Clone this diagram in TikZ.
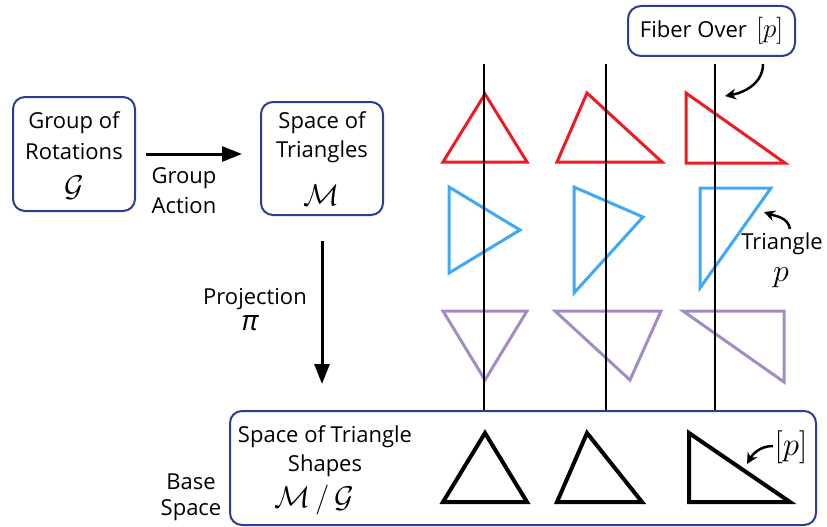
\RequirePackage{fix-cm}
\documentclass[tikz,border=0pt]{standalone}
\usepackage{fontspec}
\setmainfont{Open Sans}
\usetikzlibrary{arrows.meta}
\definecolor{boxblue}{RGB}{44,62,148}
\definecolor{tred}{RGB}{237,28,36}
\definecolor{tblue}{RGB}{63,169,245}
\definecolor{tpurple}{RGB}{165,139,196}
\begin{document}
\begin{tikzpicture}[x=1pt,y=-1pt]
\tikzset{
 panel/.style={draw=boxblue, line width=2pt, rounded corners=12pt, inner sep=0pt},
 txt/.style={font=\fontsize{22}{26}\selectfont, inner sep=0pt},
 cal/.style={font=\fontsize{30}{36}\selectfont, inner sep=0pt},
 fiberline/.style={line width=2pt},
 tri/.style={line width=3pt, line join=miter},
 btri/.style={line width=4pt, line join=miter},
 bigarrow/.style={line width=3pt, -{Triangle[length=20pt,width=15pt]}},
 curvearrow/.style={line width=2.5pt, -{Stealth[length=11pt,width=11pt]}},
}
\useasboundingbox (0,0) rectangle (827,527);

% boxes
\node[panel, minimum width=122pt, minimum height=114pt] (grp) at (74,154) {};
\node[txt] (grpa) at (74,123) {Group of};
\node[txt] (grpb) at (74,152) {Rotations};
\node[cal] (grpc) at (74,188) {$\mathcal{G}$};

\node[panel, minimum width=122pt, minimum height=113pt] (sp) at (322,158.5) {};
\node[txt] (spa) at (322,123) {Space of};
\node[txt] (spb) at (322,152) {Triangles};
\node[cal] (spc) at (322,195) {$\mathcal{M}$};

\node[panel, minimum width=586pt, minimum height=114pt] (base) at (523,468) {};
\node[txt] (basea) at (325,437) {Space of Triangle};
\node[txt] (baseb) at (325,466) {Shapes};
\node[cal] (basec) at (314,500) {$\mathcal{M}\,/\,\mathcal{G}$};

\node[txt] (bsa) at (191,482) {Base};
\node[txt] (bsb) at (191,510) {Space};

\node[panel, rounded corners=13pt, minimum width=167pt, minimum height=50pt, font=\fontsize{22}{26}\selectfont] (fib) at (711.5,31) {Fiber Over\, {\fontsize{27}{30}\selectfont$[p]$}};

% labels
\node[txt] (gact1) at (184,178) {Group};
\node[txt] (gact2) at (184,206) {Action};
\node[txt] (proj) at (255,299) {Projection};
\node[txt, font=\fontsize{28}{30}\selectfont\itshape] (pi) at (250,323) {π};

% arrows between boxes
\draw[bigarrow, shorten <=10pt, shorten >=18pt] (grp.east) -- (grp.east -| sp.west);
\draw[bigarrow, shorten <=25pt, shorten >=26pt] (sp.south) -- (sp.south |- base.north);

% red triangles
\draw[tri, tred] (485,94) -- (443,162) -- (527,162) -- cycle;
\draw[tri, tred] (587,93) -- (557,162) -- (662,162) -- cycle;
\draw[tri, tred] (686,93) -- (686,163) -- (785,163) -- cycle;
% blue triangles
\draw[tri, tblue] (449,187) -- (449,273) -- (520,230) -- cycle;
\draw[tri, tblue] (574,187) -- (574,293) -- (643,217) -- cycle;
\draw[tri, tblue] (700,188) -- (771,188) -- (700,288) -- cycle;
% purple triangles
\draw[tri, tpurple] (443,311) -- (527,311) -- (485,380) -- cycle;
\draw[tri, tpurple] (555,311) -- (661,311) -- (630,380) -- cycle;
\draw[tri, tpurple] (683,311) -- (784,311) -- (784,382) -- cycle;
% black triangles
\draw[btri] (485,433) -- (443,502) -- (527,502) -- cycle;
\draw[btri] (587,433) -- (557,502) -- (642,502) -- cycle;
\draw[btri] (689,433) -- (689,502) -- (790,502) -- cycle;

% fibers
\coordinate (f1) at (484,64);
\coordinate (f2) at (606,64);
\coordinate (f3) at (715,64);
\draw[fiberline] (f1) -- (f1 |- base.north);
\draw[fiberline] (f2) -- (f2 |- base.north);
\draw[fiberline] (f3) -- (f3 |- base.north);

% curved pointers
\coordinate (c1s) at (763,64);
\coordinate (c1e) at (725,96);
\draw[curvearrow] (c1s) to[out=-90, in=10] (c1e);

\node[txt] (trl) at (782,244) {Triangle};
\node[txt, font=\fontsize{32}{34}\selectfont] (trp) at (781,278) {$p$};
\coordinate (c2s) at (790,229);
\coordinate (c2e) at (764,212);
\draw[curvearrow] (c2s) to[out=100, in=-20] (c2e);

\node[txt, font=\fontsize{33}{36}\selectfont] (pcl) at (791,447) {$[p]$};
\coordinate (c3s) at (773,446);
\coordinate (c3e) at (747,464);
\draw[curvearrow] (c3s) to[out=180, in=60] (c3e);
\end{tikzpicture}
\end{document}
